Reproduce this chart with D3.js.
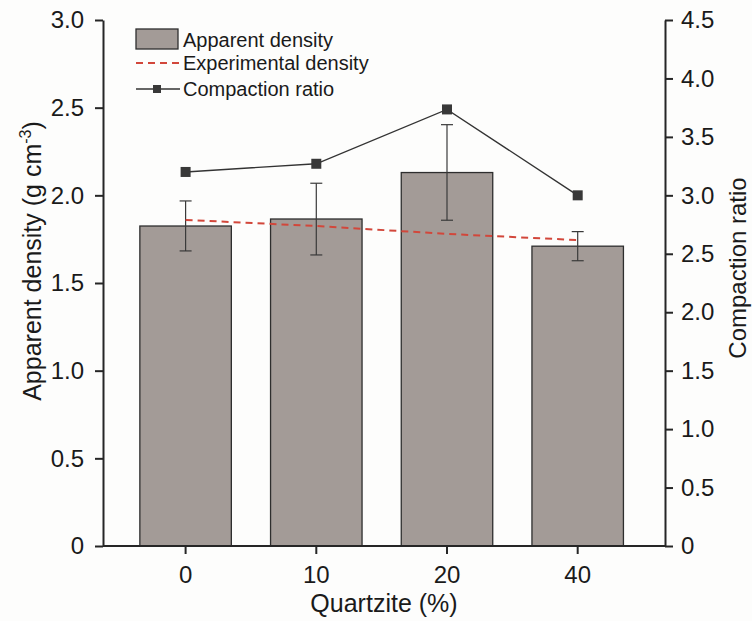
<!DOCTYPE html>
<html>
<head>
<meta charset="utf-8">
<script src="https://cdn.jsdelivr.net/npm/d3@7"></script>
<style>
  html, body { margin: 0; padding: 0; background: #fdfdfc; }
  svg { display: block; font-family: "Liberation Sans", Arial, sans-serif; }
</style>
</head>
<body>
<svg id="chart" width="752" height="621"></svg>
<script>
// Quartzite content categories
const categories = ["0", "10", "20", "40"];
// Apparent density (g cm^-3) with error bar extents
const apparentDensity = [1.825, 1.865, 2.13, 1.71];
const errLow = [1.683, 1.66, 1.858, 1.627];
const errHigh = [1.968, 2.069, 2.403, 1.793];
// Experimental density (g cm^-3)
const experimentalDensity = [1.86, 1.825, 1.78, 1.745];
// Compaction ratio (right axis)
const compactionRatio = [3.2, 3.27, 3.735, 3.0];
// Axis ticks
const leftTicks = [0, 0.5, 1.0, 1.5, 2.0, 2.5, 3.0];
const rightTicks = [0, 0.5, 1.0, 1.5, 2.0, 2.5, 3.0, 3.5, 4.0, 4.5];

const svg = d3.select("#chart");
const m = { left: 103, right: 665, top: 20, bottom: 546 };

const x = d3.scaleBand().domain(categories).range([m.left, m.right])
  .paddingInner(0.3).paddingOuter(0.3).align(0.47);
const yL = d3.scaleLinear().domain([0, 3]).range([m.bottom, m.top]);
const yR = d3.scaleLinear().domain([0, 4.5]).range([m.bottom, m.top]);

const fmt = d => d === 0 ? "0" : d.toFixed(1);
const axisColor = "#262626";
const textColor = "#1a1a1a";

// Bars
svg.append("g").selectAll("rect").data(categories).join("rect")
  .attr("x", d => x(d))
  .attr("y", (d, i) => yL(apparentDensity[i]))
  .attr("width", x.bandwidth())
  .attr("height", (d, i) => yL(0) - yL(apparentDensity[i]))
  .attr("fill", "#a39b97")
  .attr("stroke", "#2e2e2e")
  .attr("stroke-width", 1.3);

// Error bars
const eb = svg.append("g").attr("stroke", "#3a3a3a").attr("stroke-width", 1.2);
categories.forEach((c, i) => {
  const cx = x(c) + x.bandwidth() / 2;
  eb.append("line").attr("x1", cx).attr("x2", cx).attr("y1", yL(errLow[i])).attr("y2", yL(errHigh[i]));
  eb.append("line").attr("x1", cx - 6).attr("x2", cx + 6).attr("y1", yL(errLow[i])).attr("y2", yL(errLow[i]));
  eb.append("line").attr("x1", cx - 6).attr("x2", cx + 6).attr("y1", yL(errHigh[i])).attr("y2", yL(errHigh[i]));
});

// Experimental density dashed line
const cxOf = c => x(c) + x.bandwidth() / 2;
svg.append("path")
  .datum(categories)
  .attr("d", d3.line().x(c => cxOf(c)).y((c, i) => yL(experimentalDensity[i])))
  .attr("fill", "none")
  .attr("stroke", "#d2473b")
  .attr("stroke-width", 2)
  .attr("stroke-dasharray", "7,5");

// Compaction ratio line with square markers
svg.append("path")
  .datum(categories)
  .attr("d", d3.line().x(c => cxOf(c)).y((c, i) => yR(compactionRatio[i])))
  .attr("fill", "none")
  .attr("stroke", "#333")
  .attr("stroke-width", 1.4);
svg.append("g").selectAll("rect").data(categories).join("rect")
  .attr("x", c => cxOf(c) - 5)
  .attr("y", (c, i) => yR(compactionRatio[i]) - 5)
  .attr("width", 10).attr("height", 10)
  .attr("fill", "#383838");

// Axes
function styleAxis(g) {
  g.selectAll(".domain").attr("stroke", axisColor).attr("stroke-width", 2);
  g.selectAll(".tick line").attr("stroke", axisColor).attr("stroke-width", 2);
  g.selectAll(".tick text").attr("fill", textColor).style("font-size", "24px");
}

svg.append("g").attr("transform", `translate(${m.left},0)`)
  .call(d3.axisLeft(yL).tickValues(leftTicks).tickFormat(fmt).tickSize(8).tickSizeOuter(0).tickPadding(11))
  .call(styleAxis);

svg.append("g").attr("transform", `translate(${m.right},0)`)
  .call(d3.axisRight(yR).tickValues(rightTicks).tickFormat(fmt).tickSize(8).tickSizeOuter(0).tickPadding(8))
  .call(styleAxis);

svg.append("g").attr("transform", `translate(0,${m.bottom})`)
  .call(d3.axisBottom(x).tickSize(8).tickSizeOuter(0).tickPadding(12))
  .call(styleAxis)
  .call(g => g.select(".domain").attr("d", `M${m.left},0H${m.right}`));

// Axis titles
svg.append("text")
  .attr("transform", `translate(41,261) rotate(-90)`)
  .attr("text-anchor", "middle")
  .style("font-size", "25px").attr("fill", textColor)
  .call(t => {
    t.append("tspan").text("Apparent density (g cm");
    t.append("tspan").attr("dy", -10).style("font-size", "16px").text("-3");
    t.append("tspan").attr("dy", 10).text(")");
  });

svg.append("text")
  .attr("transform", `translate(746,268) rotate(-90)`)
  .attr("text-anchor", "middle")
  .style("font-size", "24px").attr("fill", textColor)
  .text("Compaction ratio");

svg.append("text")
  .attr("x", 384).attr("y", 612)
  .attr("text-anchor", "middle")
  .style("font-size", "25px").attr("fill", textColor)
  .text("Quartzite (%)");

// Legend
const lg = svg.append("g").style("font-size", "20px").attr("fill", textColor);
lg.append("rect").attr("x", 136).attr("y", 29).attr("width", 42).attr("height", 20)
  .attr("fill", "#a39b97").attr("stroke", "#2e2e2e").attr("stroke-width", 1.3);
lg.append("text").attr("x", 183).attr("y", 47).text("Apparent density");
lg.append("line").attr("x1", 136).attr("x2", 180).attr("y1", 63).attr("y2", 63)
  .attr("stroke", "#d2473b").attr("stroke-width", 2).attr("stroke-dasharray", "7,5");
lg.append("text").attr("x", 183).attr("y", 70).text("Experimental density");
lg.append("line").attr("x1", 136).attr("x2", 180).attr("y1", 89).attr("y2", 89)
  .attr("stroke", "#333").attr("stroke-width", 1.4);
lg.append("rect").attr("x", 153).attr("y", 85).attr("width", 8).attr("height", 8).attr("fill", "#383838");
lg.append("text").attr("x", 183).attr("y", 96).text("Compaction ratio");
</script>
</body>
</html>
